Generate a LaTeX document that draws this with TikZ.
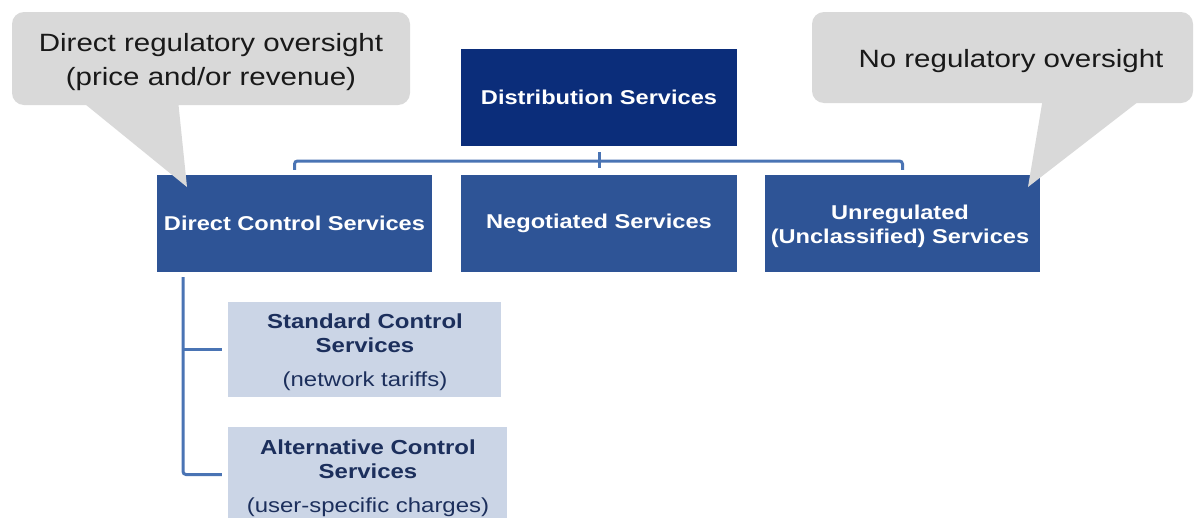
\documentclass[tikz,border=0pt]{standalone}
\usepackage{fontspec}
\setmainfont[FakeStretch=1.18]{Liberation Sans}
\definecolor{navy}{HTML}{0B2D7A}
\definecolor{midblue}{HTML}{2E5496}
\definecolor{lightbox}{HTML}{CBD5E6}
\definecolor{subtext}{HTML}{1C2F5C}
\definecolor{conncol}{HTML}{4A74B4}
\definecolor{callgray}{HTML}{D9D9D9}
\begin{document}
\begin{tikzpicture}[x=1pt,y=-1pt,
  boxfont/.style={font=\bfseries\fontsize{20}{24}\selectfont},
  topbox/.style={boxfont, fill=navy, text=white, minimum width=276pt, minimum height=97pt, inner sep=0pt, align=center},
  midbox/.style={boxfont, fill=midblue, text=white, minimum width=275pt, minimum height=97pt, inner sep=0pt, align=center},
  midtext/.style={boxfont, text=white, inner sep=0pt, align=center},
  subbox/.style={fill=lightbox, minimum height=95pt, inner sep=0pt},
  subtext/.style={font=\fontsize{20.3}{24}\selectfont, text=subtext, align=center, inner sep=0pt},
  callout/.style={fill=callgray, rounded corners=12pt, inner sep=0pt},
  calltext/.style={text=black!90, font=\fontsize{25}{34}\selectfont, align=center, inner sep=0pt},
  conn/.style={draw=conncol, line width=3pt, rounded corners=3pt}
]
\useasboundingbox (0,0) rectangle (1200,517);
\clip (0,0) rectangle (1200,517);
\fill[white] (0,0) rectangle (1200,517);

% boxes
\node[topbox] (dist) at (599,97.5) {Distribution Services};
\node[midbox] (dcs) at (294.5,223.5) {Direct Control Services};
\node[midbox, minimum width=276pt] (neg) at (599,223.5) {Negotiated Services};
\node[midbox] (unr) at (902.5,223.5) {};
\node[midtext] (unrt) at (900,226) {Unregulated\\(Unclassified) Services};
\node[subbox, minimum width=273pt] (std) at (364.5,349.5) {};
\node[subtext] (stdt) at (365,352.5)
  {\bfseries Standard Control\\ \bfseries Services\\[10pt](network tariffs)};
\node[subbox, minimum width=279pt] (alt) at (367.5,474.5) {};
\node[subtext] (altt) at (368,478.5)
  {\bfseries Alternative Control\\ \bfseries Services\\[10pt](user-specific charges)};

% connectors
\coordinate (hub) at (599,161);
\draw[conn] ([yshift=-6pt]dist.south) -- ([yshift=-22pt]dist.south);
\draw[conn] ([yshift=5pt]dcs.north) |- (hub) -| ([yshift=5pt]unr.north);
\coordinate (trunk) at ([xshift=-111.5pt,yshift=-5pt]dcs.south);
\draw[conn] (trunk) |- ([xshift=-6pt]alt.west);
\draw[conn] (trunk |- std.west) -- ([xshift=-6pt]std.west);

% callouts
\node[callout, minimum width=398pt, minimum height=93pt] (c1) at (211,58.5) {};
\fill[callgray] (80,100) -- (178,100) -- (187,187) -- cycle;
\node[calltext] (c1t) at (211,62) {Direct regulatory oversight\\(price and/or revenue)};
\node[callout, minimum width=381pt, minimum height=91pt] (c2) at (1002.5,57.5) {};
\fill[callgray] (1043,98) -- (1143,98) -- (1028,187) -- cycle;
\node[calltext] (c2t) at (1011,61) {No regulatory oversight};
\end{tikzpicture}
\end{document}
